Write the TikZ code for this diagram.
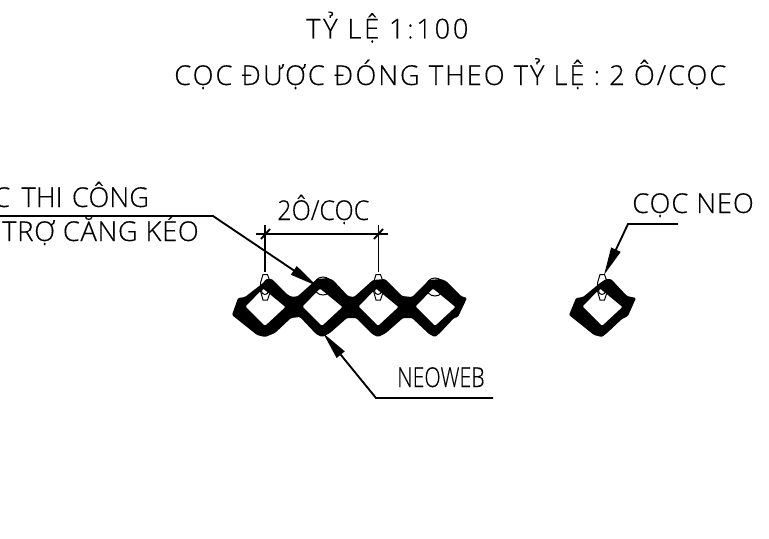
\documentclass[tikz,border=0pt]{standalone}
\usepackage{fontspec}
\usetikzlibrary{arrows.meta}
\setmainfont{Open Sans Light}[FakeBold=0.3,LetterSpace=3.3]
\newfontfamily\dimf{Open Sans Light}[FakeBold=0.3,FakeStretch=0.92,LetterSpace=0]
\newfontfamily\narrowf{Open Sans Light}[FakeBold=0.3,FakeStretch=0.78,LetterSpace=0]
\tikzset{
  cad/.style={inner sep=0pt,anchor=base west,font=\fontsize{20.5}{21}\selectfont},
  ld/.style={line width=1.4pt,black,line join=miter,-{Triangle[length=21pt,width=7.5pt]}},
  dimline/.style={line width=1.1pt,black},
  thinl/.style={line width=0.75pt,black},
  web/.style={fill=black,even odd rule,rounded corners=0.9pt}
}
\newcommand{\cellholes}[1]{(#1-19.5,306.5) -- (#1-2,288.5) -- (#1+20.5,307) -- (#1,326) -- cycle}
\newcommand{\pilehex}[1]{\draw[thinl] (#1-2,274.5) -- (#1+2.5,274.5) -- (#1+5.5,283) -- (#1+5.5,291) -- (#1+2.5,300) -- (#1-2,300) -- (#1-4.5,291) -- (#1-4.5,283) -- cycle; \draw[thinl] (#1,291) circle[radius=3.5];}
\begin{document}
\begin{tikzpicture}[x=0.75pt,y=-0.75pt]
\useasboundingbox (0,0) rectangle (769,539);
\node[cad,font=\fontsize{20.5}{21}\selectfont\addfontfeature{LetterSpace=9.7}] (t1) at (306,38.5) {TỶ LỆ 1:100};
\node[cad,font=\fontsize{20.5}{21}\selectfont\addfontfeature{LetterSpace=7.2}] (t2) at (174,85) {CỌC ĐƯỢC ĐÓNG THEO TỶ LỆ : 2 Ô/CỌC};
\node[cad,font=\fontsize{20.5}{21}\selectfont\addfontfeature{LetterSpace=0.5}] (a1) at (-7,207) {C\hspace{3pt} THI\hspace{1.5pt} CÔNG};
\node[cad,font=\fontsize{20.5}{21}\selectfont\addfontfeature{LetterSpace=2.5}] (a2) at (2,241) {TRỢ CĂNG KÉO};
\node[cad,font=\fontsize{20.5}{21}\selectfont\dimf] (d) at (277,220) {2Ô/CỌC};
\node[cad] (n) at (632,213) {CỌC NEO};
\node[cad,font=\fontsize{20.5}{21}\selectfont\narrowf] (w) at (397,387) {NEOWEB};
% lattice
\path[web] (232,315) -- (238,298) -- (245,297) -- (263,283) -- (266,279) -- (272,279) -- (288,295) -- (293,297) -- (298,296) -- (317,279) -- (328,278) -- (333,280) -- (348,296) -- (354,297) -- (373,280) -- (385,279) -- (402,296) -- (412,297) -- (429,280) -- (441,279) -- (446,281) -- (461,296) -- (467,298) -- (458,317) -- (454,318) -- (440,333) -- (435,337) -- (429,334) -- (412,318) -- (403,318) -- (386,333) -- (378,337) -- (372,334) -- (356,318) -- (347,318) -- (330,333) -- (322,337) -- (316,334) -- (300,317) -- (291,318) -- (275,333) -- (265,337) -- (257,335) -- cycle
 \cellholes{265} \cellholes{322} \cellholes{378} \cellholes{435};
\path[web] (569,315) -- (576,298) -- (583,297) -- (600,283) -- (606,279) -- (611,279) -- (627,296) -- (636,298) -- (628,316) -- (622,319) -- (607,333) -- (602,337) -- (594,335) -- cycle
 \cellholes{602};
\pilehex{265}\pilehex{378}\pilehex{602}
\draw[thinl] (323,286) circle[radius=9];
\draw[thinl] (435,287) circle[radius=9];
% dimension
\coordinate (e1a) at (265,225); \coordinate (e1b) at (265,272);
\coordinate (e2a) at (378.3,225); \coordinate (e2b) at (378.3,272);
\coordinate (dl) at (256,234); \coordinate (dr) at (388,234);
\draw[dimline] (e1a) -- (e1b);
\draw[dimline] (e2a) -- (e2b);
\draw[dimline] (dl) -- (dr);
\draw[line width=1.4pt] (261,239) -- (270,229);
\draw[line width=1.4pt] (374,239) -- (383,229);
% leaders
\coordinate (l1s) at (-2,216); \coordinate (l1b) at (213,216); \coordinate (l1t) at (317,286);
\coordinate (l2s) at (493,398); \coordinate (l2b) at (376,398); \coordinate (l2t) at (323,333);
\coordinate (l3s) at (678,224); \coordinate (l3b) at (628,224); \coordinate (l3t) at (604,275);
\draw[ld] (l1s) -- (l1b) -- (l1t);
\draw[ld] (l2s) -- (l2b) -- (l2t);
\draw[ld] (l3s) -- (l3b) -- (l3t);
\end{tikzpicture}
\end{document}
